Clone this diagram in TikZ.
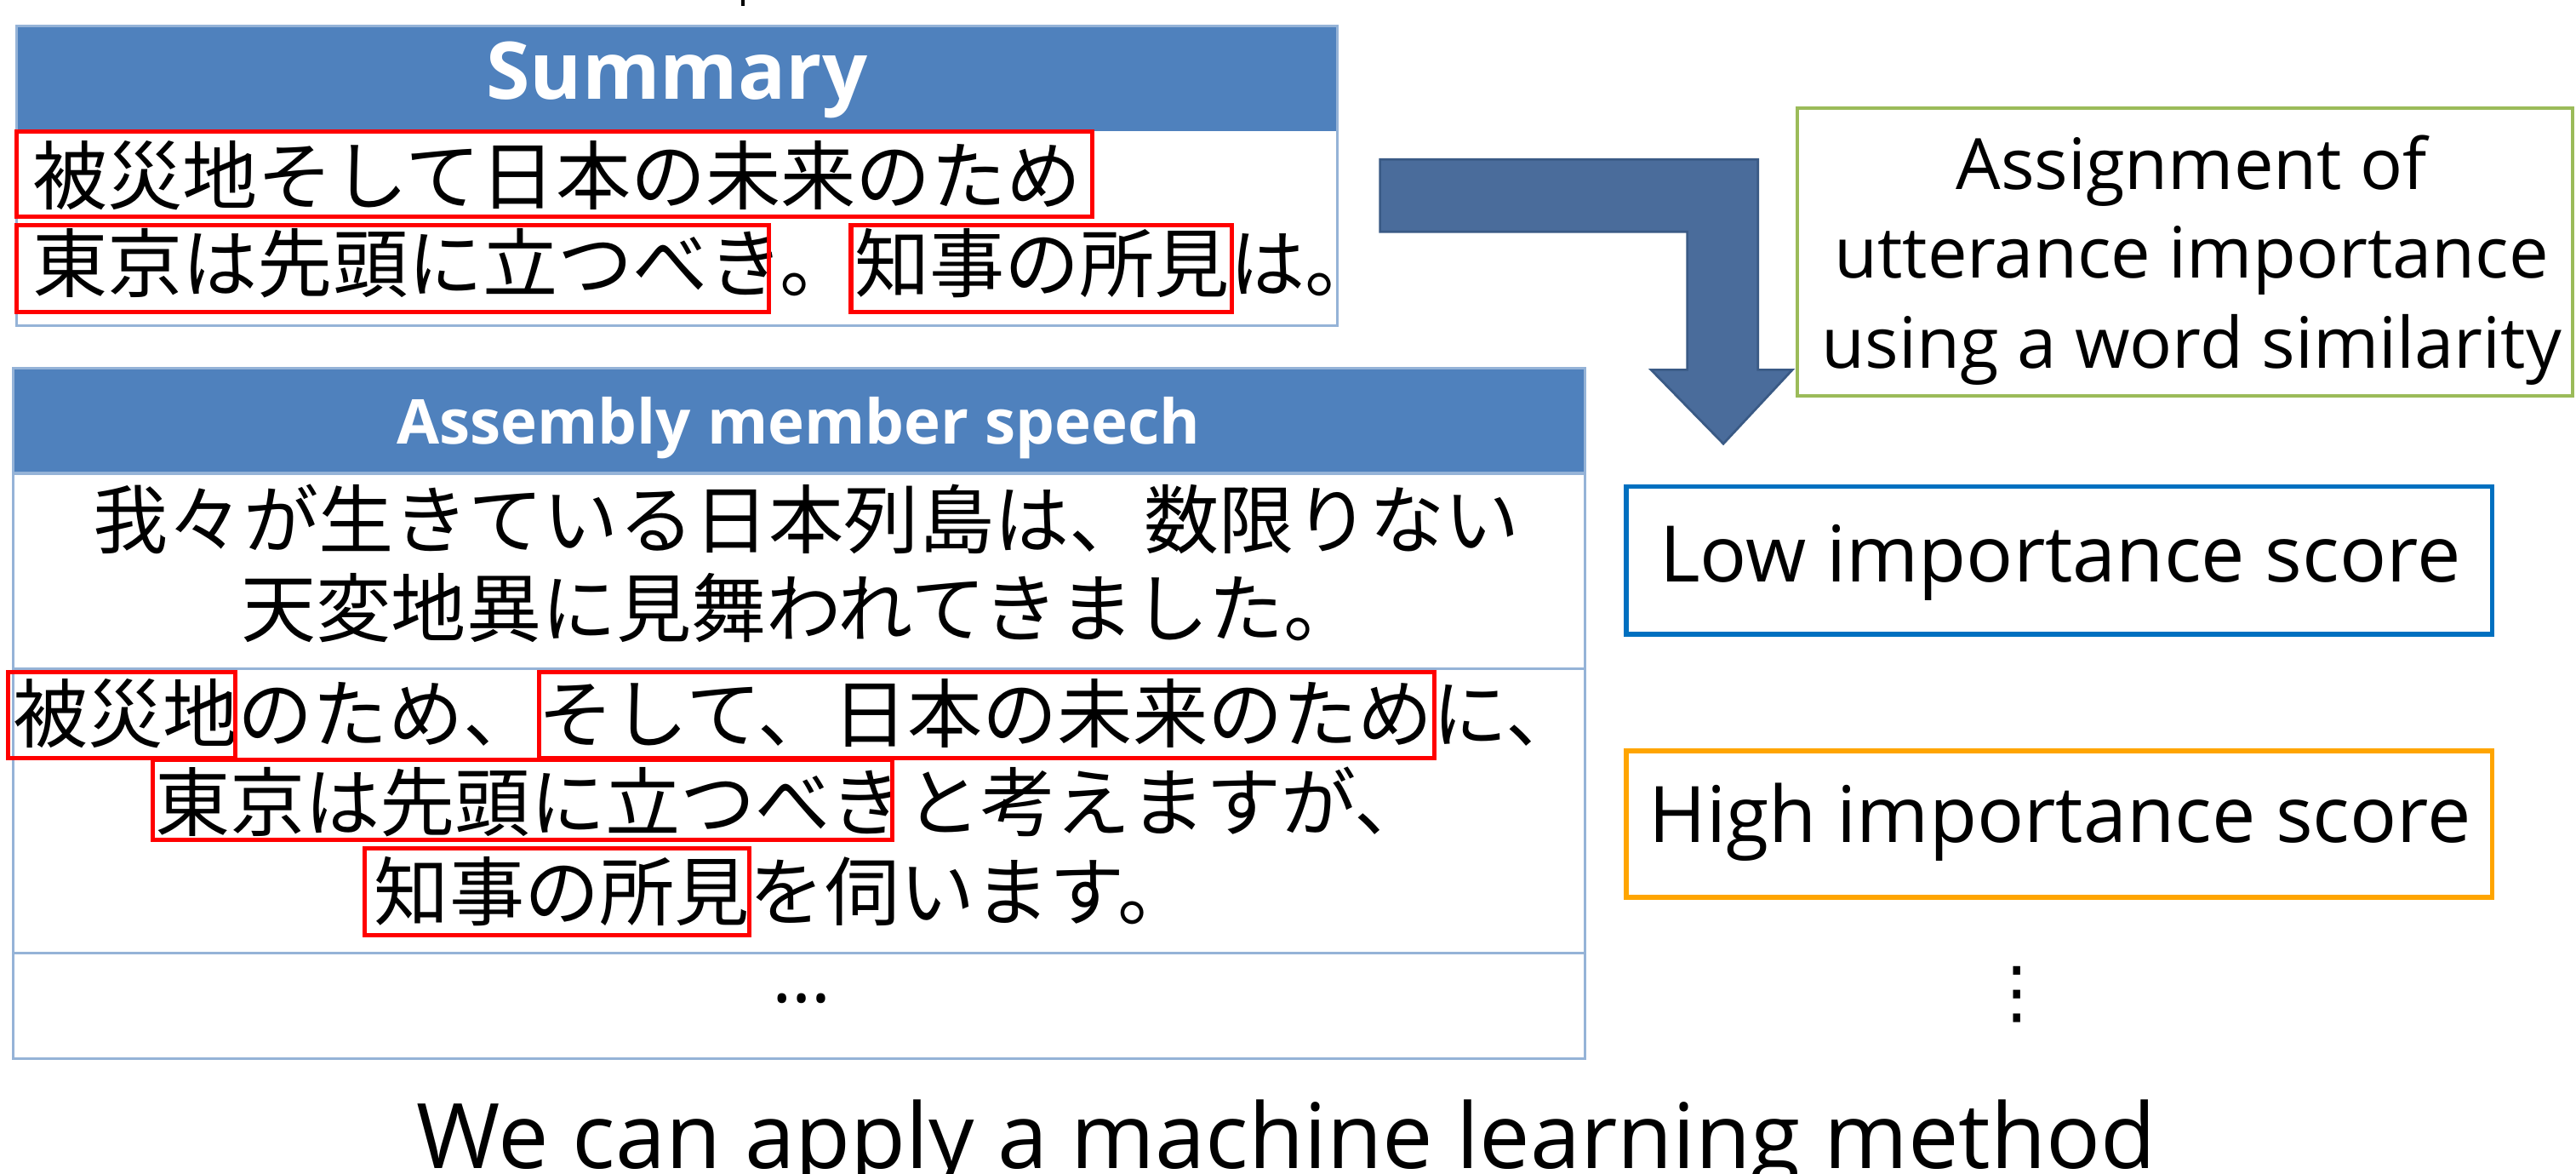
\documentclass[tikz,border=0pt]{standalone}
\usepackage{fontspec}
\setmainfont{Open Sans}
\newfontfamily\jp{Noto Sans CJK JP}
\newfontfamily\dv{DejaVu Sans}
\definecolor{hdrblue}{HTML}{4F81BD}
\definecolor{tblline}{HTML}{95B3D7}
\definecolor{arrowfill}{HTML}{4A6C9B}
\definecolor{arrowline}{HTML}{3A5A85}
\definecolor{greenbox}{HTML}{9BBB59}
\definecolor{lowblue}{HTML}{0070C0}
\definecolor{highorange}{HTML}{FFA500}
\tikzset{
  jptext/.style={font=\jp\fontsize{26}{30}\selectfont, inner sep=0pt,
    text height=22.9pt, text depth=3.1pt, anchor=west},
  redframe/.style={draw=red, line width=1.5pt},
  hdrtext/.style={text=white, font=\bfseries\fontsize{#1}{#1}\selectfont, anchor=base, inner sep=0pt},
  entext/.style={font=\fontsize{#1}{#1}\selectfont, anchor=base, inner sep=0pt},
  tbl/.style={draw=tblline, line width=0.9pt},
  scorebox/.style={line width=1.7pt}
}
\begin{document}
\begin{tikzpicture}[x=0.2mm,y=-0.2mm]
\useasboundingbox (0,0) rectangle (1568,714);
\fill[white] (0,0) rectangle (1568,714);
% cut-off mark at the top
\draw[line width=1.2pt] (452,0) -- (452,3.5);

% ---------- Summary table ----------
\fill[hdrblue] (10,16) rectangle (814,80);
\draw[tbl] (10,16) rectangle (814,198);
\node[hdrtext=27.5] (sumhdr) at (412,60.5) {Summary};
\node[jptext] (s1) at (19.5,106.5) {被災地そして日本の未来のため};
\node[jptext] (s2) at (19.5,160) {東京は先頭に立つべき。知事の所見は。};
\draw[redframe] (10,80) rectangle (665,132);
\draw[redframe] (10,137) rectangle (468,190);
\draw[redframe] (518,137) rectangle (750,190);

% ---------- Assembly member speech table ----------
\fill[hdrblue] (8,224) rectangle (965,288);
\draw[tbl] (8,224) rectangle (965,644);
\draw[tbl] (8,288) -- (965,288);
\draw[tbl] (8,407) -- (965,407);
\draw[tbl] (8,580) -- (965,580);
\node[hdrtext=21.4] (ashdr) at (486,270) {Assembly member speech};
\node[jptext] (r1a) at (56.5,316) {我々が生きている日本列島は、数限りない};
\node[jptext] (r1b) at (146.5,370) {天変地異に見舞われてきました。};
\node[jptext] (r2a) at (7.5,434) {被災地のため、そして、日本の未来のために、};
\node[jptext] (r2b) at (94,488) {東京は先頭に立つべきと考えますが、};
\node[jptext] (r2c) at (227.5,542.5) {知事の所見を伺います。};
\draw[redframe] (5,409) rectangle (143,461.5);
\draw[redframe] (328,409) rectangle (873,461.5);
\draw[redframe] (93,462.5) rectangle (543,511);
\draw[redframe] (222,516) rectangle (456,569);
\node[entext=26] (dots) at (488,610) {…};

% ---------- bent arrow ----------
\draw[fill=arrowfill, draw=arrowline, line width=0.8pt, line join=miter]
  (840,97) -- (1070,97) -- (1070,225) -- (1091,225) -- (1049,270) -- (1005,225)
  -- (1027,225) -- (1027,141) -- (840,141) -- cycle;

% ---------- green box ----------
\draw[draw=greenbox, line width=1.2pt] (1094,66) rectangle (1566,241);
\node[entext=24.5] (g1) at (1334,115) {Assignment of};
\node[entext=24.5] (g2) at (1334,169) {utterance importance};
\node[entext=24.5] (g3) at (1334,224) {using a word similarity};

% ---------- score boxes ----------
\draw[scorebox, draw=lowblue] (990,296) rectangle (1517,386);
\node[entext=27] (low) at (1254,354) {Low importance score};
\draw[scorebox, draw=highorange] (990,457) rectangle (1517,546);
\node[entext=27] (high) at (1254,512.5) {High importance score};
\node[font=\dv\fontsize{24}{24}\selectfont, inner sep=0pt] (vdots) at (1228,605) {⋮};

% ---------- bottom line ----------
\node[entext=31.3] (bottom) at (783,710.7) {We can apply a machine learning method};
\end{tikzpicture}
\end{document}
